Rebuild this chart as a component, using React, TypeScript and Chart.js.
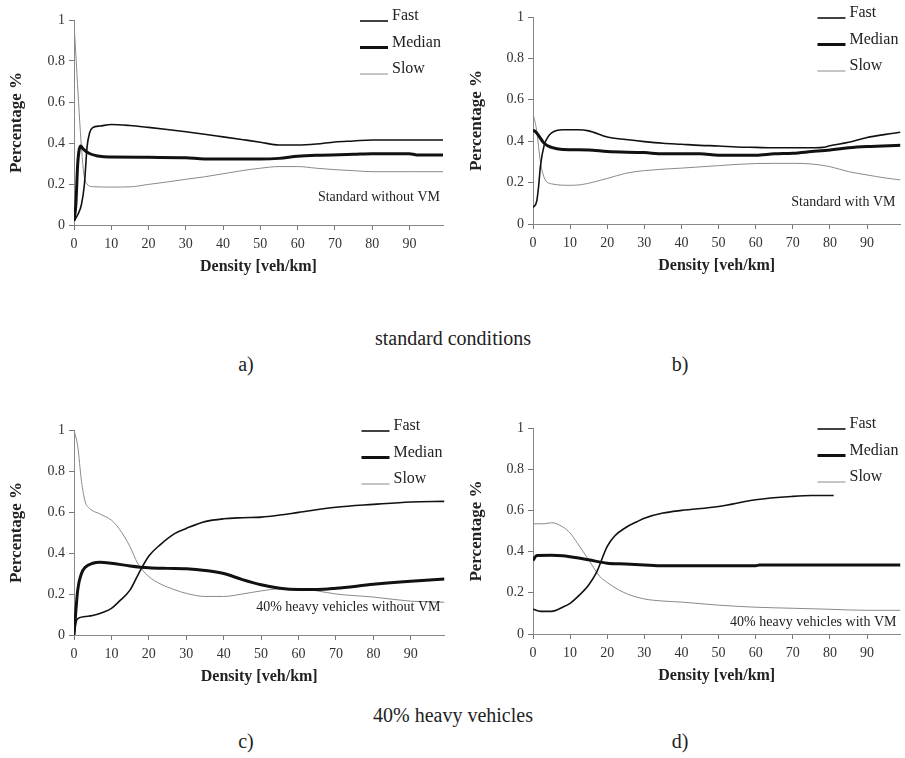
import React, { useEffect, useRef } from 'react';
import { Chart, registerables } from 'chart.js';

Chart.register(...registerables);

const FONT = "'Liberation Serif', 'Times New Roman', serif";

// ---- tick values ----
const xTickValues = [0, 10, 20, 30, 40, 50, 60, 70, 80, 90];
const yTickValues = [0, 0.2, 0.4, 0.6, 0.8, 1];
const seriesLabels = ['Fast', 'Median', 'Slow'];

// ---- panel a: Standard without VM ----
const aFastD = [0, 1, 2, 2.8, 3.5, 4.2, 5, 7, 10, 15, 20, 25, 30, 35, 40, 45, 50, 55, 60, 65, 70, 75, 80, 90, 99];
const aFastV = [0.02, 0.05, 0.1, 0.2, 0.38, 0.45, 0.475, 0.483, 0.49, 0.485, 0.476, 0.466, 0.455, 0.443, 0.43, 0.417, 0.404, 0.39, 0.39, 0.395, 0.405, 0.41, 0.415, 0.415, 0.415];
const aMedD = [0, 0.5, 1, 1.8, 2.5, 4, 6, 8, 10, 20, 30, 35, 40, 50, 55, 60, 65, 75, 80, 90, 92, 99];
const aMedV = [0.02, 0.1, 0.3, 0.385, 0.37, 0.35, 0.338, 0.333, 0.332, 0.33, 0.328, 0.322, 0.322, 0.322, 0.325, 0.335, 0.34, 0.345, 0.348, 0.348, 0.342, 0.342];
const aSlowD = [0, 2.5, 3.5, 5, 10, 15, 20, 25, 30, 35, 40, 45, 50, 55, 60, 65, 70, 75, 80, 90, 99];
const aSlowV = [0.98, 0.27, 0.2, 0.187, 0.185, 0.186, 0.198, 0.21, 0.223, 0.235, 0.25, 0.265, 0.277, 0.285, 0.285, 0.277, 0.27, 0.265, 0.26, 0.26, 0.26];

// ---- panel b: Standard with VM ----
const bFastD = [0, 1, 1.5, 2, 3, 4, 5, 8, 12, 15, 20, 25, 30, 35, 40, 45, 50, 55, 60, 65, 70, 75, 78, 80, 85, 90, 95, 99];
const bFastV = [0.08, 0.11, 0.18, 0.28, 0.38, 0.42, 0.44, 0.455, 0.455, 0.45, 0.42, 0.408, 0.398, 0.39, 0.385, 0.38, 0.377, 0.372, 0.37, 0.368, 0.368, 0.368, 0.37, 0.378, 0.395, 0.418, 0.433, 0.443];
const bMedD = [0, 1, 3, 5, 8, 15, 20, 30, 35, 45, 50, 60, 65, 70, 75, 80, 85, 90, 99];
const bMedV = [0.455, 0.44, 0.39, 0.37, 0.36, 0.358, 0.35, 0.345, 0.339, 0.339, 0.332, 0.332, 0.339, 0.342, 0.35, 0.358, 0.368, 0.374, 0.38];
const bSlowD = [0, 1, 2, 3, 5, 10, 13, 20, 25, 30, 40, 50, 60, 70, 75, 80, 85, 90, 95, 99];
const bSlowV = [0.535, 0.45, 0.3, 0.225, 0.194, 0.187, 0.19, 0.22, 0.245, 0.258, 0.27, 0.282, 0.292, 0.293, 0.29, 0.277, 0.253, 0.237, 0.222, 0.213];

// ---- panel c: 40% heavy vehicles without VM ----
const cFastD = [0, 0.5, 1, 3, 5, 8, 10, 12, 15, 17, 20, 23, 27, 30, 35, 40, 45, 50, 55, 60, 70, 80, 90, 99];
const cFastV = [0, 0.06, 0.08, 0.09, 0.095, 0.112, 0.13, 0.163, 0.22, 0.29, 0.385, 0.44, 0.496, 0.52, 0.553, 0.567, 0.572, 0.575, 0.585, 0.598, 0.623, 0.637, 0.649, 0.652];
const cMedD = [0, 1, 2, 3, 5, 7, 10, 15, 20, 25, 30, 35, 40, 45, 50, 55, 60, 65, 70, 80, 90, 99];
const cMedV = [0, 0.22, 0.3, 0.33, 0.35, 0.355, 0.35, 0.337, 0.328, 0.325, 0.323, 0.315, 0.3, 0.27, 0.245, 0.228, 0.222, 0.222, 0.228, 0.247, 0.262, 0.273];
const cSlowD = [0, 1, 2, 3, 4, 7, 10, 12, 15, 17, 20, 23, 27, 30, 35, 40, 45, 50, 55, 60, 65, 70, 80, 90, 99];
const cSlowV = [1.0, 0.92, 0.75, 0.65, 0.62, 0.59, 0.56, 0.52, 0.43, 0.35, 0.285, 0.25, 0.22, 0.203, 0.188, 0.188, 0.2, 0.215, 0.225, 0.225, 0.215, 0.2, 0.185, 0.165, 0.16];

// ---- panel d: 40% heavy vehicles with VM ----
const dFastD = [0, 2, 5, 8, 10, 12, 15, 17, 20, 22, 25, 28, 30, 35, 40, 50, 60, 70, 75, 81];
const dFastV = [0.12, 0.11, 0.11, 0.13, 0.149, 0.18, 0.238, 0.295, 0.425, 0.476, 0.517, 0.545, 0.562, 0.587, 0.6, 0.619, 0.652, 0.668, 0.672, 0.672];
const dMedD = [0, 1, 5, 8, 10, 15, 20, 25, 30, 35, 60, 61, 99];
const dMedV = [0.357, 0.381, 0.382, 0.38, 0.375, 0.36, 0.344, 0.34, 0.335, 0.331, 0.331, 0.335, 0.335];
const dSlowD = [0, 3, 5, 8, 10, 12, 15, 18, 20, 23, 26, 30, 35, 40, 50, 60, 70, 80, 90, 99];
const dSlowV = [0.535, 0.535, 0.54, 0.52, 0.49, 0.44, 0.36, 0.279, 0.25, 0.215, 0.19, 0.17, 0.16, 0.155, 0.14, 0.13, 0.125, 0.12, 0.115, 0.115];

const notes = ['Standard without VM', 'Standard with VM', '40% heavy vehicles without VM', '40% heavy vehicles with VM'];
const groupTitles = ['standard conditions', '40% heavy vehicles'];
const panelLetters = ['a)', 'b)', 'c)', 'd)'];

const styles = [
  { color: '#111', width: 1.6 },
  { color: '#111', width: 3 },
  { color: '#8a8a8a', width: 1 },
];

type PanelProps = {
  series: [number[], number[]][];
  note: string;
  left: number;
  top: number;
  width: number;
  height: number;
  pad: { left: number; top: number; right: number; bottom: number };
  yWidth: number;
  noteDx: number;
  noteDy: number;
};

const overlayPlugin = {
  id: 'overlay',
  afterDraw(chart: any) {
    const { ctx, chartArea } = chart;
    const o = chart.options.plugins.overlay;
    ctx.save();
    // legend
    const dyText = [-4, 22.5, 49];
    chart.data.datasets.forEach((ds: any, i: number) => {
      const ty = chartArea.top + dyText[i];
      ctx.strokeStyle = ds.borderColor;
      ctx.lineWidth = ds.borderWidth;
      ctx.beginPath();
      ctx.moveTo(chartArea.right - 83, ty + 5);
      ctx.lineTo(chartArea.right - 55, ty + 5);
      ctx.stroke();
      ctx.fillStyle = '#222';
      ctx.font = `16px ${FONT}`;
      ctx.textAlign = 'left';
      ctx.textBaseline = 'middle';
      ctx.fillText(ds.label, chartArea.right - 51, ty);
    });
    // note
    ctx.fillStyle = '#222';
    ctx.font = `14px ${FONT}`;
    ctx.textAlign = 'right';
    ctx.textBaseline = 'middle';
    ctx.fillText(o.note, chartArea.right + o.dx, chartArea.bottom + o.dy);
    ctx.restore();
  },
};

function Panel(p: PanelProps) {
  const ref = useRef<HTMLCanvasElement>(null);
  useEffect(() => {
    const canvas = ref.current!;
    const chart = new Chart(canvas, {
      type: 'line',
      data: {
        datasets: p.series.map(([xs, ys], i) => ({
          label: seriesLabels[i],
          data: xs.map((x, j) => ({ x, y: ys[j] })),
          borderColor: styles[i].color,
          borderWidth: styles[i].width,
          pointRadius: 0,
          fill: false,
          cubicInterpolationMode: 'monotone' as const,
        })),
      },
      options: {
        animation: false,
        responsive: false,
        layout: { padding: p.pad },
        plugins: {
          legend: { display: false },
          tooltip: { enabled: false },
          overlay: { note: p.note, dx: p.noteDx, dy: p.noteDy },
        } as any,
        scales: {
          x: {
            type: 'linear',
            min: 0,
            max: 99,
            afterBuildTicks: (s: any) => {
              s.ticks = xTickValues.map((v) => ({ value: v }));
            },
            afterFit: (s: any) => {
              s.height = 55;
            },
            grid: { display: true, drawOnChartArea: false, tickLength: 5, color: '#777' },
            border: { display: true, color: '#888', width: 1 },
            ticks: { font: { family: FONT, size: 14 }, color: '#333', padding: 6, maxRotation: 0, autoSkip: false },
            title: {
              display: true,
              text: 'Density [veh/km]',
              font: { family: FONT, size: 16, weight: 'bold' },
              color: '#222',
              padding: { top: 0, bottom: 4 },
            },
          },
          y: {
            type: 'linear',
            min: 0,
            max: 1,
            afterBuildTicks: (s: any) => {
              s.ticks = yTickValues.map((v) => ({ value: v }));
            },
            afterFit: (s: any) => {
              s.width = p.yWidth;
            },
            grid: { display: true, drawOnChartArea: false, tickLength: 5, color: '#777' },
            border: { display: true, color: '#888', width: 1 },
            ticks: {
              font: { family: FONT, size: 14 },
              color: '#333',
              padding: 4,
              callback: (v: any) => String(Math.round(Number(v) * 10) / 10),
            },
            title: {
              display: true,
              text: 'Percentage %',
              font: { family: FONT, size: 17, weight: 'bold' },
              color: '#222',
              padding: { top: 4, bottom: 0 },
            },
          },
        },
      } as any,
      plugins: [overlayPlugin],
    });
    return () => chart.destroy();
  }, []);
  return (
    <canvas
      ref={ref}
      width={p.width}
      height={p.height}
      style={{ position: 'absolute', left: p.left, top: p.top, width: p.width, height: p.height }}
    />
  );
}

const captionStyle: React.CSSProperties = {
  position: 'absolute',
  fontFamily: FONT,
  color: '#222',
  whiteSpace: 'nowrap',
  transform: 'translate(-50%, -50%)',
  lineHeight: 1,
};

export default function App() {
  useEffect(() => {
    document.body.style.margin = '0';
    document.body.style.background = '#fff';
  }, []);
  return (
    <div style={{ position: 'relative', width: 905, height: 758, background: '#fff', overflow: 'hidden' }}>
      <Panel
        series={[[aFastD, aFastV], [aMedD, aMedV], [aSlowD, aSlowV]]}
        note={notes[0]}
        left={0} top={0} width={450} height={300}
        pad={{ left: 2, top: 20, right: 7, bottom: 20 }}
        yWidth={72}
        noteDx={-3} noteDy={-28}
      />
      <Panel
        series={[[bFastD, bFastV], [bMedD, bMedV], [bSlowD, bSlowV]]}
        note={notes[1]}
        left={450} top={0} width={455} height={300}
        pad={{ left: 12, top: 17, right: 4.5, bottom: 21 }}
        yWidth={71}
        noteDx={-5} noteDy={-22}
      />
      <Panel
        series={[[cFastD, cFastV], [cMedD, cMedV], [cSlowD, cSlowV]]}
        note={notes[2]}
        left={0} top={400} width={450} height={300}
        pad={{ left: 2, top: 30, right: 5.5, bottom: 10 }}
        yWidth={72}
        noteDx={-4} noteDy={-28}
      />
      <Panel
        series={[[dFastD, dFastV], [dMedD, dMedV], [dSlowD, dSlowV]]}
        note={notes[3]}
        left={450} top={400} width={455} height={300}
        pad={{ left: 12, top: 28, right: 4.5, bottom: 11 }}
        yWidth={71}
        noteDx={-4} noteDy={-12}
      />
      <div style={{ ...captionStyle, left: 453, top: 338, fontSize: 20 }}>{groupTitles[0]}</div>
      <div style={{ ...captionStyle, left: 246, top: 364, fontSize: 20 }}>{panelLetters[0]}</div>
      <div style={{ ...captionStyle, left: 680, top: 364, fontSize: 20 }}>{panelLetters[1]}</div>
      <div style={{ ...captionStyle, left: 453, top: 715, fontSize: 20 }}>{groupTitles[1]}</div>
      <div style={{ ...captionStyle, left: 246, top: 741, fontSize: 20 }}>{panelLetters[2]}</div>
      <div style={{ ...captionStyle, left: 680, top: 741, fontSize: 20 }}>{panelLetters[3]}</div>
    </div>
  );
}
